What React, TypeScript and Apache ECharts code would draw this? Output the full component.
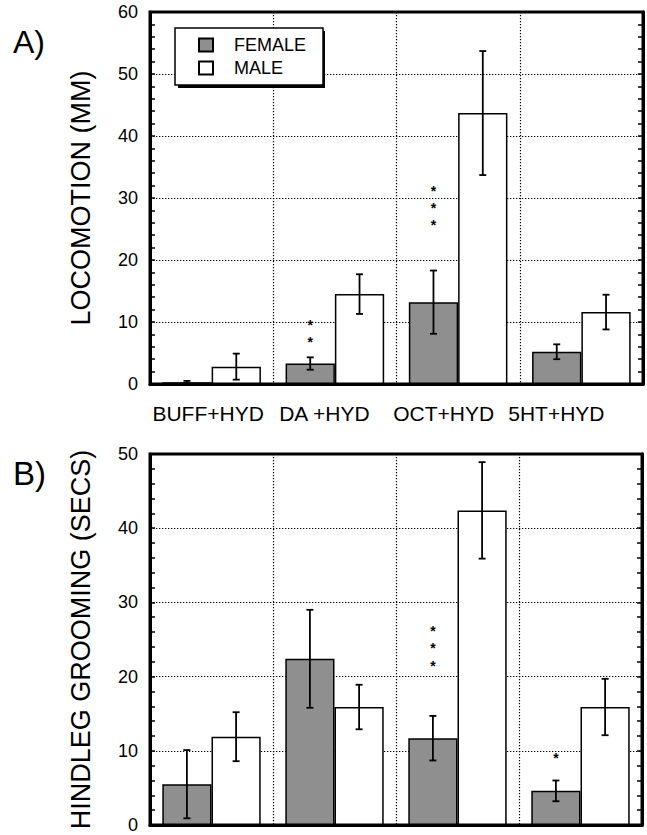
import React, { useEffect, useRef } from "react";
import * as echarts from "echarts";

const categories = ["BUFF+HYD", "DA +HYD", "OCT+HYD", "5HT+HYD"];
const seriesNames = ["FEMALE", "MALE"];

// Panel A: locomotion (MM)
const locoFemale = [0.3, 3.3, 13.2, 5.2];
const locoFemaleErr = [0.2, 1.0, 5.1, 1.2];
const locoMale = [2.8, 14.5, 43.7, 11.6];
const locoMaleErr = [2.1, 3.2, 10.0, 2.8];
const locoTicks = [0, 10, 20, 30, 40, 50, 60];
// significance asterisks: [category, value]
const locoStars = [[1, 10.0], [1, 7.3], [2, 31.6], [2, 28.9], [2, 26.1]];

// Panel B: hindleg grooming (SECS)
const groomFemale = [5.5, 22.4, 11.7, 4.6];
const groomFemaleErr = [4.6, 6.6, 3.0, 1.4];
const groomMale = [11.9, 15.9, 42.4, 15.9];
const groomMaleErr = [3.3, 3.0, 6.5, 3.8];
const groomTicks = [0, 10, 20, 30, 40, 50];
const groomStars = [[2, 26.5], [2, 24.2], [2, 21.9], [3, 9.5]];

const FONT = "Liberation Sans, Arial, Helvetica, sans-serif";
const labelShift = [7, 21, 29, 50];

function errData(vals: number[], errs: number[], side: number) {
  return vals.map((v, i) => [i, v, errs[i], side]);
}

const errRender = (params: any, api: any) => {
  const c = api.value(0);
  const v = api.value(1);
  const e = api.value(2);
  const side = api.value(3);
  const band = api.size([1, 0])[0];
  const top = api.coord([c, v + e]);
  const bot = api.coord([c, Math.max(v - e, 0)]);
  const x = top[0] + side * band * 0.2;
  const w = 3.5;
  const st = { stroke: "#000", lineWidth: 1.8 };
  return {
    type: "group",
    children: [
      { type: "line", shape: { x1: x, y1: top[1], x2: x, y2: bot[1] }, style: st },
      { type: "line", shape: { x1: x - w, y1: top[1], x2: x + w, y2: top[1] }, style: st },
      { type: "line", shape: { x1: x - w, y1: bot[1], x2: x + w, y2: bot[1] }, style: st },
    ],
  };
};

const starRender = (params: any, api: any) => {
  const c = api.value(0);
  const v = api.value(1);
  const band = api.size([1, 0])[0];
  const p = api.coord([c, v]);
  return {
    type: "text",
    x: p[0] - band * 0.2,
    y: p[1] + 3,
    style: {
      text: "*",
      fontSize: 14,
      lineHeight: 14,
      fontWeight: "bold",
      fontFamily: FONT,
      fill: "#000",
      align: "center",
      verticalAlign: "middle",
    },
  };
};

const gridLine = { show: true, lineStyle: { color: "#000", type: [1.3, 1.7], width: 1.2 } };

function yAxes(gridIndex: number, max: number, name: string) {
  const common = {
    type: "value",
    gridIndex,
    min: 0,
    max,
    interval: 10,
    axisLine: { show: true, lineStyle: { color: "#000", width: 3 } },
    axisTick: { show: true, inside: true, length: 5, lineStyle: { color: "#000", width: 1.5 } },
    minorTick: { show: true, splitNumber: 5, length: 5, lineStyle: { color: "#000", width: 1.5 } },
  };
  return [
    {
      ...common,
      position: "left",
      name,
      nameLocation: "middle",
      nameGap: 56,
      nameTextStyle: { fontSize: 27, fontFamily: FONT, color: "#000" },
      axisLabel: { show: true, fontSize: 18, fontFamily: FONT, color: "#000", margin: 12 },
      splitLine: gridLine,
    },
    {
      ...common,
      position: "right",
      axisLabel: { show: false },
      splitLine: { show: false },
    },
  ];
}

function xAxis(gridIndex: number, showLabels: boolean) {
  const rich: any = {};
  labelShift.forEach((s, i) => {
    rich["l" + i] = { padding: [0, s, 0, 0], fontSize: 21, fontFamily: FONT, color: "#000" };
  });
  return {
    type: "category",
    gridIndex,
    data: categories,
    axisLine: { show: true, lineStyle: { color: "#000", width: 3 } },
    axisTick: { show: false, interval: 0 },
    splitLine: { ...gridLine, interval: 0 },
    axisLabel: {
      show: showLabels,
      interval: 0,
      margin: 19,
      fontSize: 21,
      fontFamily: FONT,
      color: "#000",
      formatter: (v: string, i: number) => `{l${i}|${v}}`,
      rich,
    },
  };
}

function panelSeries(
  idx: number,
  fem: number[],
  femErr: number[],
  male: number[],
  maleErr: number[],
  stars: number[][]
) {
  const yIdx = idx * 2;
  return [
    {
      name: seriesNames[0],
      type: "bar",
      xAxisIndex: idx,
      yAxisIndex: yIdx,
      data: fem,
      barWidth: "40%",
      barGap: "0%",
      itemStyle: { color: "#8f8f8f", borderColor: "#000", borderWidth: 1.5 },
    },
    {
      name: seriesNames[1],
      type: "bar",
      xAxisIndex: idx,
      yAxisIndex: yIdx,
      data: male,
      barWidth: "40%",
      barGap: "0%",
      itemStyle: { color: "#ffffff", borderColor: "#000", borderWidth: 1.5 },
    },
    {
      type: "custom",
      xAxisIndex: idx,
      yAxisIndex: yIdx,
      renderItem: errRender,
      encode: { x: 0, y: 1 },
      data: [...errData(fem, femErr, -1), ...errData(male, maleErr, 1)],
      z: 5,
    },
    {
      type: "custom",
      xAxisIndex: idx,
      yAxisIndex: yIdx,
      renderItem: starRender,
      encode: { x: 0, y: 1 },
      data: stars,
      z: 5,
    },
  ];
}

export default function App() {
  const ref = useRef<HTMLDivElement>(null);
  useEffect(() => {
    if (!ref.current) return;
    const chart = echarts.init(ref.current, null, { renderer: "svg" });
    const option: any = {
      animation: false,
      backgroundColor: "#fff",
      grid: [
        { left: 150, top: 12, width: 493, height: 372, show: true, borderColor: "#000", borderWidth: 3, backgroundColor: "transparent" },
        { left: 150, top: 454, width: 492, height: 371, show: true, borderColor: "#000", borderWidth: 3, backgroundColor: "transparent" },
      ],
      xAxis: [xAxis(0, true), xAxis(1, false)],
      yAxis: [
        ...yAxes(0, locoTicks[locoTicks.length - 1], "LOCOMOTION (MM)"),
        ...yAxes(1, groomTicks[groomTicks.length - 1], "HINDLEG GROOMING (SECS)"),
      ],
      legend: {
        data: [
          { name: seriesNames[0], icon: "rect" },
          { name: seriesNames[1], icon: "rect" },
        ],
        orient: "vertical",
        left: 175,
        top: 28,
        itemWidth: 14,
        itemHeight: 13,
        itemGap: 5,
        padding: [8, 17, 8, 23],
        selectedMode: false,
        backgroundColor: "#fff",
        borderColor: "#000",
        borderWidth: 1.5,
        textStyle: { fontSize: 18, fontFamily: FONT, color: "#000", padding: [0, 0, 0, 16] },
      },
      graphic: [
        { type: "rect", z: 3, shape: { x: 178, y: 31, width: 147, height: 57 }, style: { fill: "#000" } },
        { type: "text", left: 13, top: 26, style: { text: "A)", fontSize: 32, fontFamily: FONT, fill: "#000" } },
        { type: "text", left: 13, top: 457, style: { text: "B)", fontSize: 33, fontFamily: FONT, fill: "#000" } },
      ],
      series: [
        ...panelSeries(0, locoFemale, locoFemaleErr, locoMale, locoMaleErr, locoStars),
        ...panelSeries(1, groomFemale, groomFemaleErr, groomMale, groomMaleErr, groomStars),
      ],
    };
    chart.setOption(option);
    return () => chart.dispose();
  }, []);
  return (
    <div
      ref={ref}
      style={{ position: "absolute", left: 0, top: 0, width: 647, height: 835, background: "#fff" }}
    />
  );
}
